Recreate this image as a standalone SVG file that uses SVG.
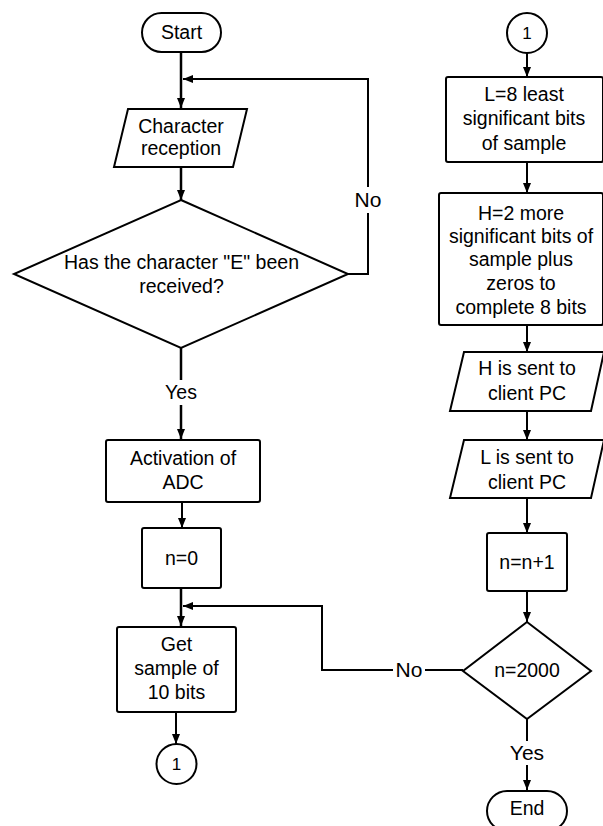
<svg xmlns="http://www.w3.org/2000/svg" width="603" height="826" viewBox="0 0 603 826">
<style>
.n{fill:#fff;stroke:#000;stroke-width:2}
.t{font-family:"Liberation Sans",Arial,sans-serif;font-size:19.5px;fill:#000;text-anchor:middle}
.l{font-family:"Liberation Sans",Arial,sans-serif;font-size:21px;fill:#000;text-anchor:middle}
.c{fill:none;stroke:#000;stroke-width:2}
.ct{font-family:"Liberation Sans",Arial,sans-serif;font-size:17px;fill:#000;text-anchor:middle}
</style>
<defs>
<marker id="ah" markerUnits="userSpaceOnUse" markerWidth="10" markerHeight="8" refX="10" refY="4" orient="auto">
<path d="M0,0 L10,4 L0,8 z" fill="#000"/>
</marker>
</defs>
<rect width="603" height="826" fill="#fff"/>
<g id="connectors">
<path class="c" style="stroke-width:2.5" d="M181,52 V108" marker-end="url(#ah)"/>
<path class="c" style="stroke-width:2.5" d="M181,167 V200" marker-end="url(#ah)"/>
<path class="c" d="M348,274 H368 V213"/>
<path class="c" d="M368,187 V79 H183" marker-end="url(#ah)"/>
<path class="c" style="stroke-width:2.5" d="M181,348 V380"/>
<path class="c" style="stroke-width:2.5" d="M181,405 V439" marker-end="url(#ah)"/>
<path class="c" d="M182,502 V528" marker-end="url(#ah)"/>
<path class="c" style="stroke-width:2.5" d="M181,588 V626" marker-end="url(#ah)"/>
<path class="c" d="M463,670 H425"/>
<path class="c" d="M393,670 H322 V606 H183" marker-end="url(#ah)"/>
<path class="c" d="M176,712 V744" marker-end="url(#ah)"/>
<path class="c" d="M527,53 V77" marker-end="url(#ah)"/>
<path class="c" d="M527,162 V193" marker-end="url(#ah)"/>
<path class="c" d="M527,325 V352" marker-end="url(#ah)"/>
<path class="c" d="M527,411 V440" marker-end="url(#ah)"/>
<path class="c" d="M527,498 V533" marker-end="url(#ah)"/>
<path class="c" d="M527,591 V622" marker-end="url(#ah)"/>
<path class="c" d="M527,719 V741"/>
<path class="c" d="M527,765 V790" marker-end="url(#ah)"/>
<text class="l" x="368" y="207">No</text>
<text class="t" x="181" y="399">Yes</text>
<text class="l" x="409" y="677">No</text>
<text class="l" x="527" y="760">Yes</text>
</g>
<g id="start">
<rect class="n" x="142" y="13" width="79" height="39" rx="19.5"/>
<text class="t" x="181.5" y="39">Start</text>
</g>
<g id="char-reception">
<path class="n" d="M128,109 H247 L233,167 H114 Z"/>
<text class="t" x="181" y="133">Character</text>
<text class="t" x="181" y="155">reception</text>
</g>
<g id="decision-e">
<path class="n" d="M181,200 L348,274 L181,348 L14,274 Z"/>
<text class="t" x="181.5" y="269">Has the character "E" been</text>
<text class="t" x="181.5" y="293">received?</text>
</g>
<g id="activation">
<rect class="n" x="106" y="440" width="154" height="62" rx="2"/>
<text class="t" x="183" y="465">Activation of</text>
<text class="t" x="183" y="489">ADC</text>
</g>
<g id="n0">
<rect class="n" x="142" y="528" width="79" height="60" rx="2"/>
<text class="t" x="181.5" y="565">n=0</text>
</g>
<g id="get-sample">
<rect class="n" x="117" y="627" width="119" height="85" rx="2"/>
<text class="t" x="176.5" y="651">Get</text>
<text class="t" x="176.5" y="675">sample of</text>
<text class="t" x="176.5" y="699">10 bits</text>
</g>
<g id="connector-out">
<circle class="n" cx="176.5" cy="764" r="20"/>
<text class="ct" x="176.5" y="770">1</text>
</g>
<g id="connector-in">
<circle class="n" cx="527" cy="33" r="20"/>
<text class="ct" x="527" y="39">1</text>
</g>
<g id="l-bits">
<rect class="n" x="446" y="77" width="157" height="85" rx="2"/>
<text class="t" x="524" y="101">L=8 least</text>
<text class="t" x="524" y="125">significant bits</text>
<text class="t" x="524" y="150">of sample</text>
</g>
<g id="h-bits">
<rect class="n" x="439" y="193" width="164" height="132" rx="2"/>
<text class="t" x="521" y="220">H=2 more</text>
<text class="t" x="521" y="243">significant bits of</text>
<text class="t" x="521" y="266">sample plus</text>
<text class="t" x="521" y="290">zeros to</text>
<text class="t" x="521" y="314">complete 8 bits</text>
</g>
<g id="h-sent">
<path class="n" d="M464,352 H604 L591,411 H450 Z"/>
<text class="t" x="527" y="375">H is sent to</text>
<text class="t" x="527" y="400">client PC</text>
</g>
<g id="l-sent">
<path class="n" d="M464,440 H604 L591,498 H450 Z"/>
<text class="t" x="527" y="464">L is sent to</text>
<text class="t" x="527" y="489">client PC</text>
</g>
<g id="n-inc">
<rect class="n" x="487" y="533" width="80" height="58" rx="2"/>
<text class="t" x="527" y="569">n=n+1</text>
</g>
<g id="decision-n">
<path class="n" d="M527,622 L591,671 L527,719 L463,671 Z"/>
<text class="t" x="527" y="677">n=2000</text>
</g>
<g id="end">
<rect class="n" x="487" y="791" width="80" height="40" rx="20"/>
<text class="t" x="527" y="815">End</text>
</g>
</svg>
